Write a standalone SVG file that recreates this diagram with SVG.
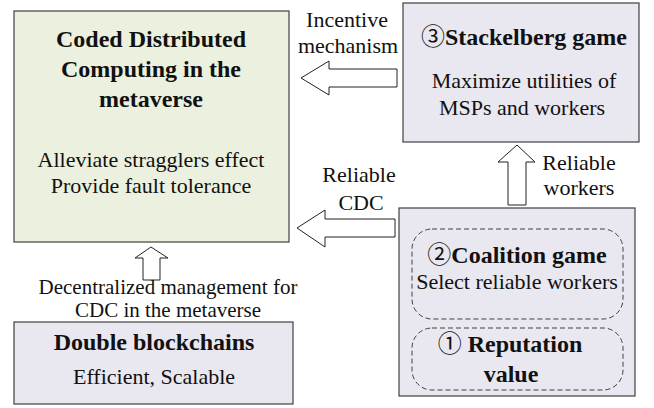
<svg xmlns="http://www.w3.org/2000/svg" width="654" height="408" viewBox="0 0 654 408" font-family="Liberation Serif, serif">
<style>
text{fill:#111;text-anchor:middle}
.b{font-weight:bold;font-size:24px}
.r{font-size:22px}
.s{font-size:21px}
.cj{font-family:"Noto Sans CJK SC",sans-serif;font-weight:normal}
.box{stroke:#404040;stroke-width:1.2}
.green{fill:#ebf1de}
.lav{fill:#e9e7ef}
.dash{fill:none;stroke:#404040;stroke-width:1;stroke-dasharray:5,3}
.arrow{fill:#fff;stroke:#222;stroke-width:1}
</style>
<rect width="654" height="408" fill="#fff"/>
<g id="cdc">
<rect class="box green" x="14" y="11" width="275" height="231"/>
<text class="b" x="151" y="47">Coded Distributed</text>
<text class="b" x="151" y="77">Computing in the</text>
<text class="b" x="151" y="107">metaverse</text>
<text class="r" x="151" y="167">Alleviate stragglers effect</text>
<text class="r" x="151" y="193">Provide fault tolerance</text>
</g>
<g id="stackelberg">
<rect class="box lav" x="403" y="3" width="236" height="139"/>
<text class="b" x="524" y="45"><tspan class="cj">③</tspan>Stackelberg game</text>
<text class="r" x="524" y="88">Maximize utilities of</text>
<text class="r" x="522" y="115">MSPs and workers</text>
</g>
<g id="games">
<rect class="box lav" x="399" y="208" width="236" height="188"/>
<rect class="dash" x="412" y="229" width="211" height="90" rx="20"/>
<text class="b" x="517" y="263"><tspan class="cj">②</tspan>Coalition game</text>
<text class="r" x="517" y="289">Select reliable workers</text>
<rect class="dash" x="412" y="328" width="211" height="62" rx="20"/>
<text class="b" x="510" y="352"><tspan class="cj">①</tspan> Reputation</text>
<text class="b" x="511" y="382">value</text>
</g>
<g id="blockchains">
<rect class="box lav" x="14" y="322" width="279" height="82"/>
<text class="b" x="154" y="350">Double blockchains</text>
<text class="r" x="154" y="384">Efficient, Scalable</text>
</g>
<g id="connectors">
<polygon class="arrow" points="301,78 329,61 329,69 397,69 397,87 329,87 329,95"/>
<polygon class="arrow" points="297,228 325,210 325,219 395,219 395,237 325,237 325,247"/>
<polygon class="arrow" points="517,145 535,162 526,162 526,205 508,205 508,162 498,162"/>
<polygon class="arrow" points="151,247 168,258 160,258 160,280 143,280 143,258 135,258"/>
<text class="r" x="347" y="27">Incentive</text>
<text class="r" x="348" y="53">mechanism</text>
<text class="r" x="359" y="182">Reliable</text>
<text class="r" x="361" y="210">CDC</text>
<text class="r" x="579" y="170">Reliable</text>
<text class="r" x="579" y="195">workers</text>
<text class="s" x="168" y="294">Decentralized management for</text>
<text class="s" x="168" y="317">CDC in the metaverse</text>
</g>
</svg>
